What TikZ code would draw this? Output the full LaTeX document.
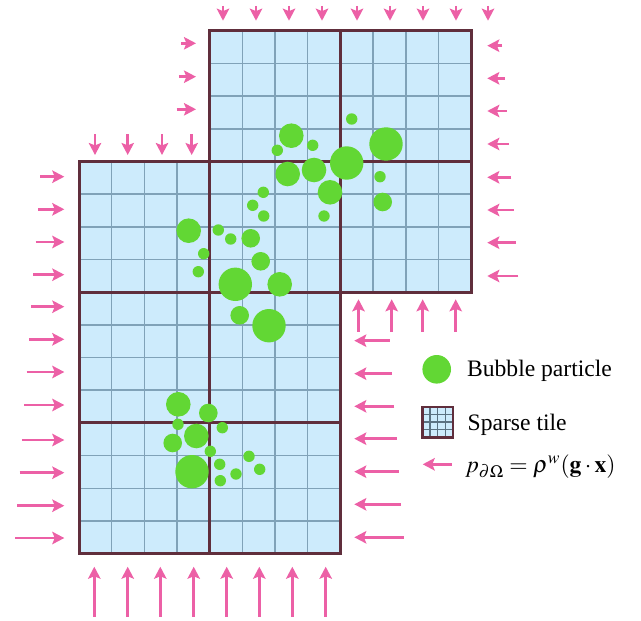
\documentclass[tikz,border=0pt]{standalone}
\usepackage{mathptmx}
\usepackage{fontspec}
\setmainfont{Liberation Serif}
\usetikzlibrary{arrows.meta}

\definecolor{tilefill}{RGB}{205,235,252}
\definecolor{cellcolor}{RGB}{128,162,184}
\definecolor{bordercolor}{RGB}{96,46,60}
\definecolor{pressurecolor}{RGB}{236,96,166}
\definecolor{bubblecolor}{RGB}{98,215,52}

\tikzset{
  cellline/.style={draw=cellcolor, line width=0.75pt},
  tileborder/.style={draw=bordercolor, line width=1.5pt},
  pressure/.style={draw=pressurecolor, line width=1.35pt,
    -{Stealth[length=6pt, width=6.2pt, inset=1.2pt]}},
}

% tile at (column, row), 4x4 cells
\newcommand{\tile}[2]{%
  \fill[tilefill] (79+#1*130.7, 30.8+#2*130.7) rectangle ++(130.7,130.7);
  \foreach \k in {1,2,3} {
    \draw[cellline] (79+#1*130.7+\k*32.675, 30.8+#2*130.7) -- ++(0,130.7);
    \draw[cellline] (79+#1*130.7, 30.8+#2*130.7+\k*32.675) -- ++(130.7,0);
  }
}
\newcommand{\bubble}[3]{%
  \fill[bubblecolor] (#1,#2) circle (#3);
}

\begin{document}
\begin{tikzpicture}[x=0.5pt, y=-0.5pt]
    \useasboundingbox (0,0) rectangle (641,620);
    % Tiles
    \foreach \cx/\ry in {1/0,2/0,0/1,1/1,2/1,0/2,1/2,0/3,1/3} {
      \tile{\cx}{\ry}
    }
    \foreach \cx/\ry in {1/0,2/0,0/1,1/1,2/1,0/2,1/2,0/3,1/3} {
      \draw[tileborder] (79+\cx*130.7, 30.8+\ry*130.7) rectangle ++(130.7,130.7);
    }
    % Bubbles (x, y, radius)
    \bubble{351.7}{119}{5.7}
    \bubble{291.3}{135.7}{12.3}
    \bubble{312.7}{145.3}{5.7}
    \bubble{277.3}{150.3}{5.7}
    \bubble{386}{144}{16.7}
    \bubble{346.7}{163}{16.7}
    \bubble{287.7}{174}{12.3}
    \bubble{314}{170}{12.3}
    \bubble{380}{176.7}{5.7}
    \bubble{330}{192.3}{12.3}
    \bubble{382.7}{202}{9.3}
    \bubble{263.3}{192.3}{5.7}
    \bubble{252.7}{205.3}{5.7}
    \bubble{263.7}{216}{5.7}
    \bubble{324}{216}{5.7}
    \bubble{188.7}{230.7}{12.3}
    \bubble{218.3}{230}{5.7}
    \bubble{230.7}{239}{5.7}
    \bubble{250.7}{238.3}{9.3}
    \bubble{203.7}{253.7}{5.7}
    \bubble{260.7}{261.3}{9.3}
    \bubble{198.3}{271.7}{5.7}
    \bubble{235.3}{284.3}{16.7}
    \bubble{279.7}{284.3}{12.3}
    \bubble{239.7}{315.3}{9.3}
    \bubble{269}{325.7}{16.7}
    \bubble{178.3}{404.3}{12.3}
    \bubble{208.3}{413}{9.3}
    \bubble{178}{424.3}{5.7}
    \bubble{222.3}{427.7}{5.7}
    \bubble{196.3}{436}{12.3}
    \bubble{172.7}{443}{9.3}
    \bubble{210.3}{451.3}{5.7}
    \bubble{192}{471.7}{16.7}
    \bubble{219.7}{464.3}{5.7}
    \bubble{249}{456.3}{5.7}
    \bubble{236}{474}{5.7}
    \bubble{220.3}{480.7}{5.7}
    \bubble{259.7}{469.3}{5.7}
    % Pressure arrows, length grows with depth
    \foreach \x in {223,256,289,322,357,390,423,456,488} {
      \draw[pressure] (\x,6) -- (\x,20.7);
    }
    \foreach \x in {95,127.7,162,191.7} {
      \draw[pressure] (\x,134.5) -- (\x,155);
    }
    \foreach \x in {358.5,391.7,422.7,455.7} {
      \draw[pressure] (\x,331.7) -- (\x,299.3);
    }
    \foreach \x in {94.3,127.7,160.3,193.7,226.7,259.3,292.3,325.7} {
      \draw[pressure] (\x,616.7) -- (\x,566.7);
    }
    \foreach \y in {43.3,76.7,109.3} {
      \draw[pressure] ({196-(11.8+0.0696*\y)},\y) -- (196,\y);
    }
    \foreach \y in {176.7,209.3,242,274.7,306.7,339.3,372,405,440,472.7,505.7,538} {
      \draw[pressure] ({64.3-(11.8+0.0696*\y)},\y) -- (64.3,\y);
    }
    \foreach \y in {45.7,78.3,111,144,177.3,210,242.7,276} {
      \draw[pressure] ({487.3+(11.8+0.0696*\y)},\y) -- (487.3,\y);
    }
    \foreach \y in {340.7,373.7,406.3,438.7,471.7,504.3,537.3} {
      \draw[pressure] ({354.3+(11.8+0.0696*\y)},\y) -- (354.3,\y);
    }
    % Legend
    \fill[bubblecolor] (436.7,369.3) circle (14.3);
    \node[anchor=base west, inner sep=0pt, font=\fontsize{11.8}{14}\selectfont]
      (bubblelabel) at (466.7,376) {Bubble particle};
    \fill[tilefill] (422.3,406.7) rectangle (452.7,437.3);
    \foreach \k in {1,2,3} {
      \draw[draw=cellcolor!70!black, line width=0.6pt] (422.3+\k*7.6,406.7) -- ++(0,30.6);
      \draw[draw=cellcolor!70!black, line width=0.6pt] (422.3,406.7+\k*7.6) -- ++(30.4,0);
    }
    \draw[draw=bordercolor, line width=1.2pt] (422.3,406.7) rectangle (452.7,437.3);
    \node[anchor=base west, inner sep=0pt, font=\fontsize{11.8}{14}\selectfont]
      (tilelabel) at (467.3,430.7) {Sparse tile};
    \draw[pressure] (451.7,464.3) -- (422.7,464.3);
    \node[anchor=base west, inner sep=0pt, font=\fontsize{11.8}{14}\selectfont]
      (pressurelabel) at (465,472.5) {$p_{\partial\Omega}=\rho^{w}(\mathbf{g}\cdot\mathbf{x})$};
  \end{tikzpicture}
\end{document}
